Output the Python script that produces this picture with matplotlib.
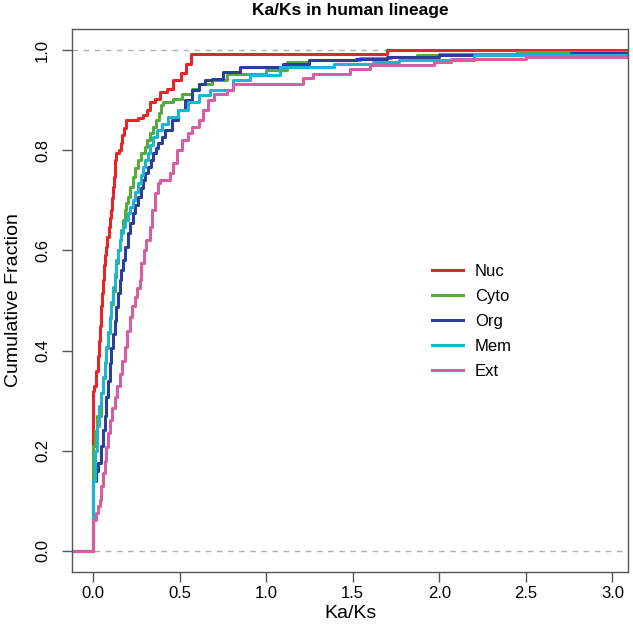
import matplotlib
matplotlib.use("Agg")
import matplotlib.pyplot as plt
import numpy as np

plt.rcParams['font.family'] = ['Liberation Sans', 'DejaVu Sans']

# step points (x where the curve jumps, value after the jump)
nuc_x = [-0.2, 0.0, 0.005, 0.019, 0.027, 0.035, 0.042, 0.048, 0.053, 0.058,
         0.065, 0.071, 0.077, 0.084, 0.091, 0.098, 0.106, 0.111, 0.116, 0.121,
         0.125, 0.13, 0.135, 0.15, 0.163, 0.17, 0.18, 0.19, 0.26, 0.29,
         0.31, 0.33, 0.36, 0.39, 0.43, 0.46, 0.51, 0.54, 0.566, 1.7]
nuc_y = [0, 0.32, 0.33, 0.36, 0.39, 0.42, 0.45, 0.49, 0.515, 0.54,
         0.57, 0.59, 0.607, 0.627, 0.647, 0.665, 0.68, 0.705, 0.727, 0.747,
         0.767, 0.78, 0.794, 0.8, 0.814, 0.83, 0.845, 0.86, 0.865, 0.87,
         0.88, 0.897, 0.903, 0.917, 0.923, 0.94, 0.954, 0.973, 0.992, 1.0]

cyto_x = [-0.2, 0.0, 0.01, 0.025, 0.048, 0.058, 0.067, 0.077, 0.087, 0.096,
          0.106, 0.115, 0.125, 0.135, 0.145, 0.155, 0.164, 0.173, 0.183, 0.192,
          0.202, 0.216, 0.231, 0.245, 0.26, 0.28, 0.299, 0.313, 0.327, 0.349,
          0.366, 0.38, 0.395, 0.406, 0.464, 0.513, 0.57, 0.61, 0.686, 0.773,
          1.0, 1.12, 1.25, 1.54, 1.72, 1.87, 2.0, 2.45]
cyto_y = [0, 0.21, 0.24, 0.27, 0.315, 0.345, 0.375, 0.405, 0.435, 0.465,
          0.494, 0.52, 0.547, 0.575, 0.6, 0.62, 0.641, 0.66, 0.68, 0.695,
          0.707, 0.727, 0.747, 0.765, 0.78, 0.795, 0.807, 0.82, 0.834, 0.847,
          0.86, 0.875, 0.89, 0.897, 0.903, 0.913, 0.923, 0.933, 0.94, 0.953,
          0.96, 0.977, 0.98, 0.984, 0.987, 0.99, 0.992, 0.996]

org_x = [-0.2, 0.0, 0.015, 0.029, 0.044, 0.058, 0.068, 0.077, 0.087, 0.096,
         0.106, 0.116, 0.125, 0.135, 0.145, 0.154, 0.163, 0.173, 0.188, 0.202,
         0.216, 0.231, 0.245, 0.26, 0.275, 0.289, 0.303, 0.318, 0.333, 0.347,
         0.362, 0.376, 0.396, 0.416, 0.455, 0.493, 0.532, 0.57, 0.61, 0.647,
         0.686, 0.753, 0.85, 1.1, 1.25, 1.52, 1.7, 2.0, 2.76]
org_y = [0, 0.14, 0.16, 0.175, 0.21, 0.241, 0.27, 0.308, 0.34, 0.375,
         0.405, 0.434, 0.46, 0.488, 0.515, 0.54, 0.56, 0.58, 0.607, 0.634,
         0.654, 0.674, 0.69, 0.707, 0.724, 0.74, 0.754, 0.767, 0.78, 0.794,
         0.804, 0.814, 0.827, 0.84, 0.86, 0.88, 0.9, 0.92, 0.933, 0.94,
         0.943, 0.957, 0.967, 0.973, 0.98, 0.983, 0.987, 0.99, 0.994]

mem_x = [-0.2, 0.0, 0.01, 0.025, 0.036, 0.044, 0.058, 0.068, 0.077, 0.087,
         0.096, 0.106, 0.116, 0.125, 0.135, 0.145, 0.154, 0.163, 0.173, 0.188,
         0.202, 0.216, 0.231, 0.245, 0.26, 0.275, 0.289, 0.303, 0.318, 0.33,
         0.347, 0.368, 0.397, 0.435, 0.493, 0.55, 0.61, 0.676, 0.81, 0.91,
         1.08, 1.39, 1.62, 1.77, 2.2]
mem_y = [0, 0.14, 0.2, 0.25, 0.29, 0.315, 0.348, 0.378, 0.408, 0.438,
         0.467, 0.497, 0.527, 0.553, 0.58, 0.6, 0.62, 0.634, 0.647, 0.66,
         0.674, 0.687, 0.7, 0.717, 0.734, 0.75, 0.767, 0.78, 0.794, 0.81,
         0.827, 0.84, 0.853, 0.867, 0.88, 0.897, 0.91, 0.92, 0.94, 0.95,
         0.967, 0.973, 0.977, 0.98, 0.99]

ext_x = [-0.2, 0.0, 0.019, 0.029, 0.039, 0.048, 0.058, 0.068, 0.077, 0.087,
         0.096, 0.11, 0.125, 0.14, 0.154, 0.168, 0.183, 0.197, 0.212, 0.226,
         0.241, 0.255, 0.27, 0.279, 0.293, 0.308, 0.327, 0.342, 0.357, 0.376,
         0.387, 0.445, 0.464, 0.484, 0.513, 0.551, 0.57, 0.61, 0.638, 0.667,
         0.7, 0.773, 0.81, 1.215, 1.27, 1.485, 1.6, 1.97, 2.07, 2.5]
ext_y = [0, 0.062, 0.075, 0.09, 0.102, 0.13, 0.155, 0.18, 0.208, 0.235,
         0.261, 0.285, 0.308, 0.33, 0.354, 0.38, 0.408, 0.44, 0.467, 0.49,
         0.507, 0.525, 0.54, 0.574, 0.6, 0.62, 0.647, 0.68, 0.714, 0.734,
         0.74, 0.754, 0.774, 0.8, 0.82, 0.834, 0.847, 0.86, 0.88, 0.9,
         0.913, 0.92, 0.933, 0.944, 0.953, 0.963, 0.97, 0.977, 0.983, 0.986]

labels = ["Nuc", "Cyto", "Org", "Mem", "Ext"]
colors = ["#e3262a", "#57ab3a", "#2b3f93", "#1fb4d2", "#d45fa3"]
series = [(nuc_x, nuc_y), (cyto_x, cyto_y), (org_x, org_y), (mem_x, mem_y), (ext_x, ext_y)]

fig = plt.figure(figsize=(6.33, 6.34), dpi=100)
ax = fig.add_axes([0.114, 0.098, 0.878, 0.856])

ax.axhline(0, color="#b0b0b0", ls=(0, (4, 4)), lw=1)
ax.axhline(1, color="#b0b0b0", ls=(0, (4, 4)), lw=1)

for (xs, ys), lab, col in zip(series, labels, colors):
    xs = np.append(xs, 3.4)
    ys = np.append(ys, ys[-1])
    ax.plot(xs, ys, drawstyle="steps-post", color=col, lw=2.2, label=lab)

ax.set_xlim(-0.12, 3.09)
ax.set_ylim(-0.042, 1.042)
ax.set_xticks([0.0, 0.5, 1.0, 1.5, 2.0, 2.5, 3.0])
ax.set_xticklabels(["0.0", "0.5", "1.0", "1.5", "2.0", "2.5", "3.0"], fontsize=12)
ax.set_yticks([0.0, 0.2, 0.4, 0.6, 0.8, 1.0])
ax.set_yticklabels(["0.0", "0.2", "0.4", "0.6", "0.8", "1.0"], fontsize=12, rotation=90, va="center")
ax.tick_params(direction="out", length=7, width=1, color="#555555", pad=3)
ax.tick_params(axis="y", pad=9)
for s in ax.spines.values():
    s.set_color("#555555")
    s.set_linewidth(1)

ax.set_xlabel("Ka/Ks", fontsize=14, labelpad=3)
ax.set_ylabel("Cumulative Fraction", fontsize=14, labelpad=9)
ax.set_title("Ka/Ks in human lineage", fontsize=12.5, fontweight="bold", pad=10)

ax.legend(loc="center left", bbox_to_anchor=(0.62, 0.461), frameon=False, fontsize=12,
          handlelength=1.9, handletextpad=0.7, labelspacing=0.6)

fig.savefig("out.png", dpi=100)
